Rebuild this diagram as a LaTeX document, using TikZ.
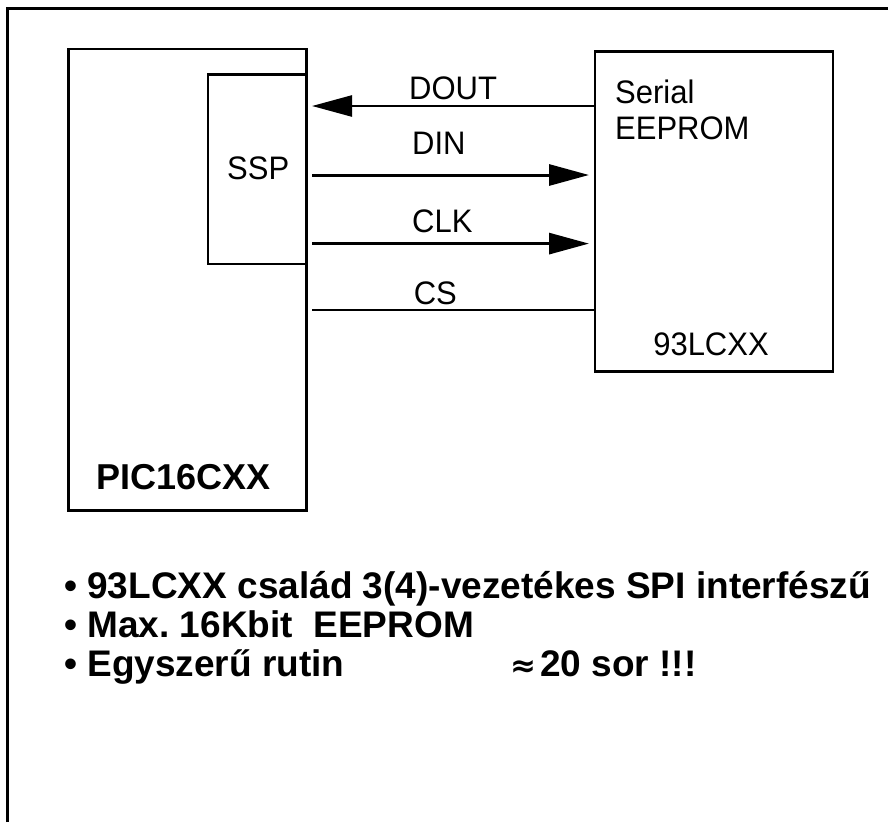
\documentclass[tikz,border=0pt]{standalone}
\usepackage{fontspec}
\setmainfont{Liberation Sans}
\newfontfamily\djv{DejaVu Sans}
\usetikzlibrary{arrows.meta}
\frenchspacing
\begin{document}
\begin{tikzpicture}[x=1pt,y=-1pt,
  box/.style={draw,line width=2.5pt,inner sep=0pt,outer sep=0pt},
  lbl/.style={font=\fontsize{31}{36}\selectfont,inner sep=0pt,anchor=base west,yscale=1.05},
  blt/.style={font=\fontsize{37}{44}\selectfont\bfseries,inner sep=0pt,anchor=base west},
  sig/.style={line width=2.5pt},
  sigb/.style={line width=3pt},
  arr/.style={-{Triangle[length=40pt,width=21pt]}}]
\useasboundingbox (0,0) rectangle (888,822);
% outer frame
\draw[line width=2.5pt] (7.5,822) -- (7.5,8.3) -- (888,8.3);
% boxes
\node[box,minimum width=237.8pt,minimum height=461.8pt] (pic) at (187.5,279.8) {};
\node[box,minimum width=98.4pt,minimum height=189.4pt] (ssp) at (257.2,169.3) {};
\node[box,minimum width=238pt,minimum height=320pt] (eep) at (714,211.7) {};
% box texts
\node[lbl] (ssptxt) at (227,179) {SSP};
\node[lbl] (sertxt) at (615,103) {Serial};
\node[lbl] (eeptxt) at (615,139) {EEPROM};
\node[lbl,anchor=base] (lctxt) at (711,355) {93LCXX};
\node[inner sep=0pt,anchor=base west,font=\fontsize{36}{42}\selectfont\bfseries] (pictxt) at (96,489) {PIC16CXX};
% signal ends
\coordinate (dout) at (312,106);
\coordinate (din) at (312,175);
\coordinate (clk) at (312,243.6);
\coordinate (cs) at (312,310);
\coordinate (dinE) at (589,175);
\coordinate (clkE) at (589,243.6);
% signals
\draw[sig,arr] (eep.west |- dout) -- (dout);
\draw[sigb,arr] (din) -- (dinE);
\draw[sigb,arr] (clk) -- (clkE);
\draw[sig] (cs) -- (eep.west |- cs);
% signal labels
\node[lbl] (douttxt) at (409,99) {DOUT};
\node[lbl] (dintxt) at (412,154) {DIN};
\node[lbl] (clktxt) at (412,232) {CLK};
\node[lbl] (cstxt) at (413.6,304) {CS};
% bullets
\node[blt] (b1) at (64,598) {• 93LCXX család 3(4)-vezetékes SPI interfészű};
\node[blt] (b2) at (64,637) {• Max. 16Kbit\ \ EEPROM};
\node[blt] (b3) at (64,676) {• Egyszerű rutin};
\node[inner sep=0pt,anchor=base,font=\fontsize{31}{36}\selectfont\djv\bfseries] (approx) at (523,676) {≈};
\node[blt] (b3b) at (540,676) {20 sor !!!};
\end{tikzpicture}
\end{document}
